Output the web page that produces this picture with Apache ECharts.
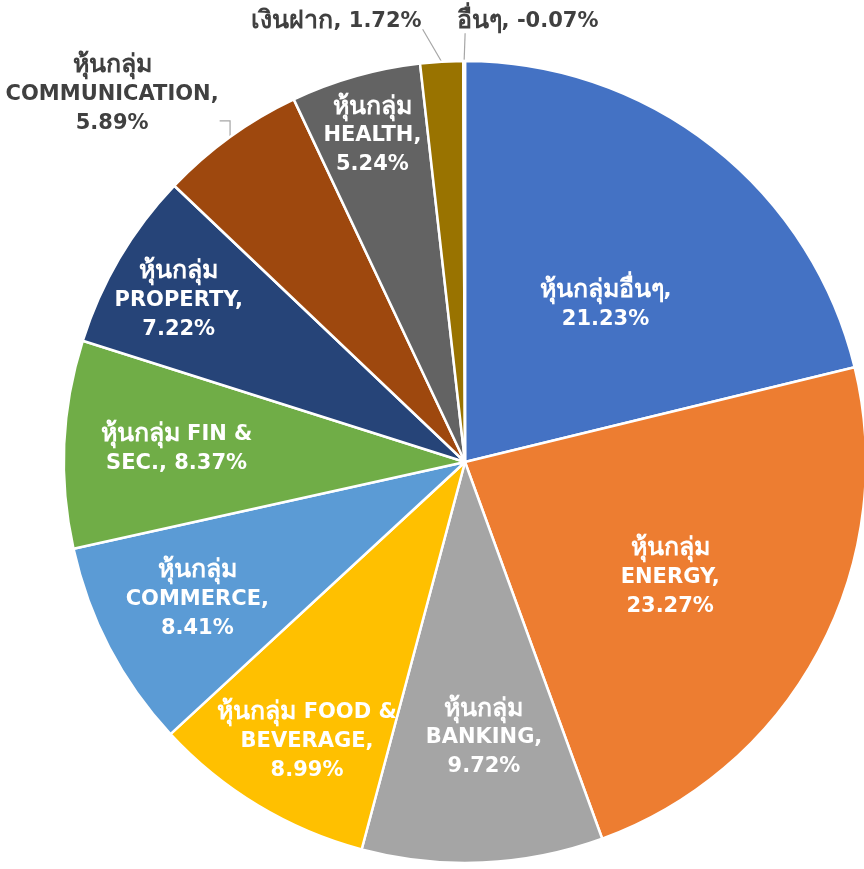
<!DOCTYPE html>
<html>
<head>
<meta charset="utf-8">
<script src="https://cdn.jsdelivr.net/npm/echarts@6/dist/echarts.min.js"></script>
<style>
  html, body { margin: 0; padding: 0; background: #ffffff; }
  #chart { width: 864px; height: 869px; }
</style>
</head>
<body>
<div id="chart"></div>
<script>
// Portfolio allocation by sector (%)
const categories = [
  'หุ้นกลุ่มอื่นๆ', 'หุ้นกลุ่ม ENERGY', 'หุ้นกลุ่ม BANKING', 'หุ้นกลุ่ม FOOD & BEVERAGE',
  'หุ้นกลุ่ม COMMERCE', 'หุ้นกลุ่ม FIN & SEC.', 'หุ้นกลุ่ม PROPERTY',
  'หุ้นกลุ่ม COMMUNICATION', 'หุ้นกลุ่ม HEALTH', 'เงินฝาก', 'อื่นๆ'
];
const weights = [21.23, 23.27, 9.72, 8.99, 8.41, 8.37, 7.22, 5.89, 5.24, 1.72, -0.07];

// Label text with line breaks; {v} is replaced by the value
const labelText = [
  'หุ้นกลุ่มอื่นๆ,\n{v}', 'หุ้นกลุ่ม\nENERGY,\n{v}', 'หุ้นกลุ่ม\nBANKING,\n{v}',
  'หุ้นกลุ่ม FOOD &\nBEVERAGE,\n{v}', 'หุ้นกลุ่ม\nCOMMERCE,\n{v}', 'หุ้นกลุ่ม FIN &\nSEC., {v}',
  'หุ้นกลุ่ม\nPROPERTY,\n{v}', 'หุ้นกลุ่ม\nCOMMUNICATION,\n{v}', 'หุ้นกลุ่ม\nHEALTH,\n{v}',
  'เงินฝาก, {v}', 'อื่นๆ, {v}'
];

const colors = ['#4472C4', '#ED7D31', '#A5A5A5', '#FFC000', '#5B9BD5', '#70AD47',
                '#264478', '#9E480E', '#636363', '#997300', '#255E91'];

// Label placement: [distance from centre as a fraction of radius, angular shift in degrees]
const labelPlacement = [
  [0.525, 3.7], [0.587, 1.2], [0.69, -1.4], [0.80, -1.6], [0.75, 0.5], [0.72, 0.1],
  [0.82, -1.1], [1.27, -8.0], [0.845, 0.0], [1.145, -12.9], [1.11, 8.2]
];
const outsideLabel = [false, false, false, false, false, false, false, true, false, true, true];

const CX = 465, CY = 462, R = 401;

const absTotal = weights.reduce((s, w) => s + Math.abs(w), 0);
const midAngles = [];
let acc = 0;
weights.forEach(w => {
  const a = Math.abs(w);
  midAngles.push((acc + a / 2) / absTotal * 360);
  acc += a;
});

function polar(r, deg) {
  const t = deg * Math.PI / 180;
  return [CX + r * Math.sin(t), CY - r * Math.cos(t)];
}

// Thai runs get their own (larger) rich-text style so they sit well beside the Latin text
function richLabel(str) {
  return str.split('\n')
    .map(line => line.replace(/[\u0E00-\u0E7F]+/g, m => '{th|' + m + '}'))
    .join('\n');
}

const chart = echarts.init(document.getElementById('chart'), null, { renderer: 'canvas' });

const seriesData = categories.map((name, i) => ({
  name: name,
  value: Math.abs(weights[i]),
  rawValue: weights[i],
  itemStyle: { color: colors[i] },
  label: outsideLabel[i]
    ? { position: 'outside', color: '#404040' }
    : { position: 'inside', color: '#ffffff' },
  labelLine: { show: outsideLabel[i] }
}));

chart.setOption({
  backgroundColor: '#ffffff',
  animation: false,
  series: [{
    type: 'pie',
    center: [CX, CY],
    radius: [0, R],
    startAngle: 90,
    clockwise: true,
    avoidLabelOverlap: false,
    itemStyle: { borderColor: '#ffffff', borderWidth: 2.5 },
    label: {
      show: true,
      fontFamily: 'Tahoma, "DejaVu Sans", sans-serif',
      fontWeight: 'bold',
      fontSize: 21,
      lineHeight: 29,
      align: 'center',
      formatter: p => richLabel(labelText[p.dataIndex].replace('{v}', p.data.rawValue.toFixed(2) + '%')),
      rich: {
        th: { fontSize: 25, fontWeight: 'bold', lineHeight: 29 }
      }
    },
    labelLine: { show: false, lineStyle: { color: '#A6A6A6', width: 1.2 } },
    labelLayout: params => {
      const i = params.dataIndex;
      const place = labelPlacement[i];
      const pos = polar(place[0] * R, midAngles[i] + place[1]);
      const out = { x: pos[0], y: pos[1], align: 'center', verticalAlign: 'middle' };
      if (outsideLabel[i]) {
        const start = polar(R, midAngles[i]);
        const lw = params.labelRect.width;
        if (i === 7) {
          const yy = pos[1] + 26;
          out.labelLinePoints = [start, [start[0], yy], [pos[0] + lw / 2 + 1, yy]];
        } else if (i === 9) {
          out.labelLinePoints = [start, [pos[0] + lw / 2 + 1, pos[1] + 8]];
        } else {
          out.labelLinePoints = [start, [start[0] + 1, pos[1] + 12]];
        }
      }
      return out;
    },
    data: seriesData
  }]
});
</script>
</body>
</html>
